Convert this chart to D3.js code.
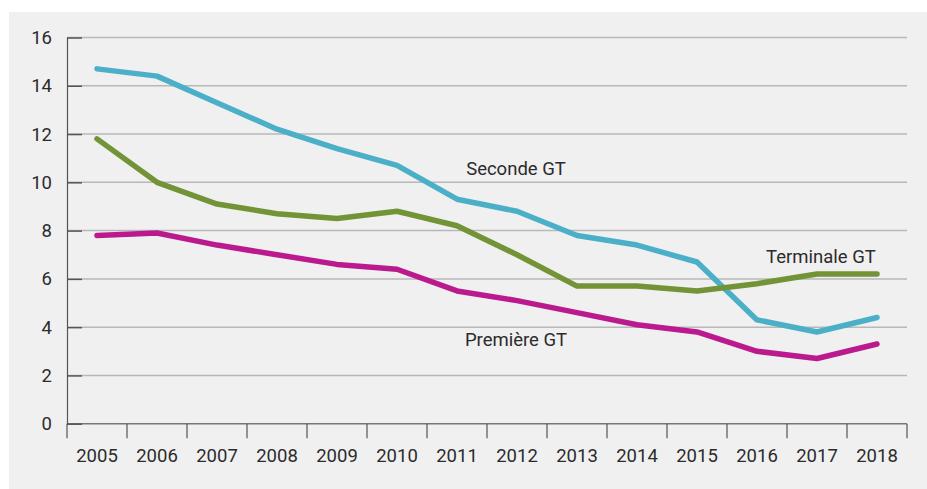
<!DOCTYPE html>
<html>
<head>
<meta charset="utf-8">
<script src="https://cdn.jsdelivr.net/npm/d3@7"></script>
<style>
  body { margin: 0; background: #fff; }
  svg { display: block; font-family: Roboto, "Noto Sans", sans-serif; }
</style>
</head>
<body>
<svg id="chart" width="927" height="489"></svg>
<script>
// years on the x axis
var years = ["2005","2006","2007","2008","2009","2010","2011","2012","2013","2014","2015","2016","2017","2018"];
var yTicks = [0, 2, 4, 6, 8, 10, 12, 14, 16];

// series values
var seconde   = [14.7, 14.4, 13.3, 12.2, 11.4, 10.7, 9.3, 8.8, 7.8, 7.4, 6.7, 4.3, 3.8, 4.4];
var terminale = [11.8, 10.0, 9.1, 8.7, 8.5, 8.8, 8.2, 7.0, 5.7, 5.7, 5.5, 5.8, 6.2, 6.2];
var premiere  = [7.8, 7.9, 7.4, 7.0, 6.6, 6.4, 5.5, 5.1, 4.6, 4.1, 3.8, 3.0, 2.7, 3.3];

var seriesNames = ["Seconde GT", "Terminale GT", "Première GT"];
var seriesColors = ["#4bb0c7", "#739337", "#bb1a8f"];

var svg = d3.select("#chart");

// grey panel behind everything
svg.append("rect")
  .attr("x", 9).attr("y", 12)
  .attr("width", 918).attr("height", 477)
  .attr("fill", "#f0f0f0");

var plotL = 67, plotR = 907, plotT = 37.5, plotB = 423.7;

var x = d3.scaleBand().domain(years).range([plotL, plotR]);
var y = d3.scaleLinear().domain([0, 16]).range([plotB, plotT]);

// gridlines
svg.append("g")
  .selectAll("line")
  .data(yTicks)
  .join("line")
  .attr("x1", plotL).attr("x2", plotR)
  .attr("y1", function(d) { return y(d); })
  .attr("y2", function(d) { return y(d); })
  .attr("stroke", function(d) { return d === 0 ? "#777" : "#b8b8b8"; })
  .attr("stroke-width", 1.5);

// y axis
var yAxis = svg.append("g")
  .attr("transform", "translate(" + plotL + ",0)")
  .call(d3.axisRight(y).tickValues(yTicks).tickSize(15).tickSizeOuter(0).tickFormat(""));
yAxis.select(".domain").attr("stroke", "#555").attr("stroke-width", 1.2);
yAxis.selectAll(".tick line").attr("stroke", "#555").attr("stroke-width", 1.5);

svg.append("g")
  .selectAll("text")
  .data(yTicks)
  .join("text")
  .attr("x", 52)
  .attr("y", function(d) { return y(d); })
  .attr("dy", "0.35em")
  .attr("text-anchor", "end")
  .attr("font-size", 18.5)
  .attr("fill", "#2b2b2b")
  .text(function(d) { return d; });

// x axis ticks at band edges
var edges = years.map(function(d) { return x(d); }).concat([plotR]);
svg.append("g")
  .selectAll("line")
  .data(edges)
  .join("line")
  .attr("x1", function(d) { return d; })
  .attr("x2", function(d) { return d; })
  .attr("y1", plotB).attr("y2", plotB + 14.5)
  .attr("stroke", "#555")
  .attr("stroke-width", 1.2);

svg.append("g")
  .selectAll("text")
  .data(years)
  .join("text")
  .attr("x", function(d) { return x(d) + x.bandwidth() / 2; })
  .attr("y", 462)
  .attr("text-anchor", "middle")
  .attr("font-size", 18.5)
  .attr("fill", "#2b2b2b")
  .text(function(d) { return d; });

// lines
var line = d3.line()
  .x(function(d, i) { return x(years[i]) + x.bandwidth() / 2; })
  .y(function(d) { return y(d); });

var allSeries = [seconde, terminale, premiere];
svg.append("g")
  .selectAll("path")
  .data(allSeries)
  .join("path")
  .attr("d", line)
  .attr("fill", "none")
  .attr("stroke", function(d, i) { return seriesColors[i]; })
  .attr("stroke-width", 5.5)
  .attr("stroke-linecap", "round")
  .attr("stroke-linejoin", "round");

// series labels
var labelPos = [[516, 169], [821, 257], [516, 340]];
svg.append("g")
  .selectAll("text")
  .data(seriesNames)
  .join("text")
  .attr("x", function(d, i) { return labelPos[i][0]; })
  .attr("y", function(d, i) { return labelPos[i][1]; })
  .attr("dy", "0.35em")
  .attr("text-anchor", "middle")
  .attr("font-size", 18.5)
  .attr("fill", "#2b2b2b")
  .text(function(d) { return d; });
</script>
</body>
</html>
